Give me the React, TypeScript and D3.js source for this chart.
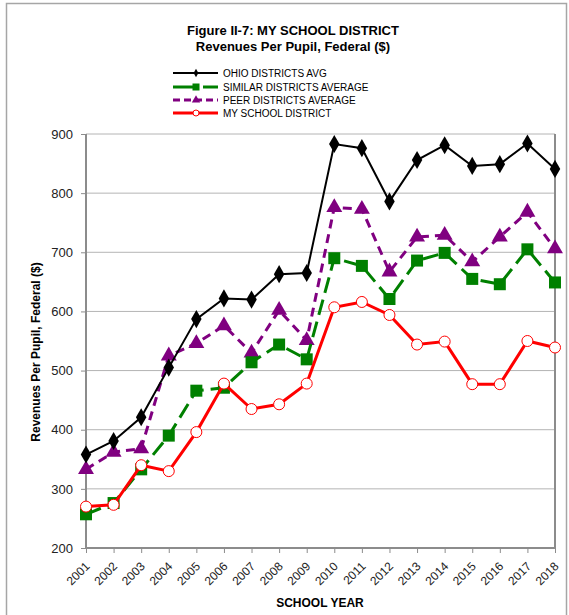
import React, { useEffect, useRef } from "react";
import * as d3 from "d3";

// school years on the x axis
const years: string[] = [
  "2001", "2002", "2003", "2004", "2005", "2006", "2007", "2008", "2009",
  "2010", "2011", "2012", "2013", "2014", "2015", "2016", "2017", "2018",
];

// revenues per pupil, federal ($)
const ohioAvg: number[] = [358, 381, 421, 505, 587, 622, 620, 663, 665, 883, 876, 786, 856, 881, 846, 849, 884, 841];
const similarAvg: number[] = [257, 276, 333, 390, 466, 471, 514, 544, 519, 690, 677, 621, 686, 699, 655, 646, 705, 649];
const peerAvg: number[] = [333, 362, 368, 525, 546, 576, 530, 602, 551, 776, 773, 667, 726, 729, 684, 726, 768, 706];
const myDistrict: number[] = [270, 273, 340, 330, 396, 478, 435, 443, 478, 607, 616, 594, 544, 549, 477, 477, 550, 539];

const yTicks: number[] = [200, 300, 400, 500, 600, 700, 800, 900];

const FONT = "'Liberation Sans', Arial, sans-serif";

export default function App() {
  const svgRef = useRef<SVGSVGElement | null>(null);

  useEffect(() => {
    const svg = d3.select(svgRef.current);
    svg.selectAll("*").remove();

    const width = 569;
    const height = 615;
    const plot = { left: 86, right: 555, top: 134, bottom: 548 };

    svg.attr("width", width).attr("height", height);

    // outer frame of the figure
    svg.append("path")
      .attr("d", `M6.5,${height} V3.5 H566.5 V${height}`)
      .attr("fill", "none")
      .attr("stroke", "#a6a6a6")
      .attr("stroke-width", 1.5);

    const x = d3.scalePoint<string>()
      .domain(years)
      .range([plot.left, plot.right]);

    const y = d3.scaleLinear()
      .domain([200, 900])
      .range([plot.bottom, plot.top]);

    // gridlines
    svg.append("g")
      .selectAll("line")
      .data(yTicks.slice(1))
      .join("line")
      .attr("x1", plot.left)
      .attr("x2", plot.right)
      .attr("y1", (d) => y(d))
      .attr("y2", (d) => y(d))
      .attr("stroke", "#b4b4b4")
      .attr("stroke-width", 1);

    // y axis
    const yAxis = svg.append("g")
      .attr("transform", `translate(${plot.left},0)`)
      .call(d3.axisLeft(y).tickValues(yTicks).tickSize(5).tickPadding(8));
    yAxis.select(".domain").remove();
    yAxis.selectAll(".tick line").attr("stroke", "#8c8c8c");
    yAxis.selectAll(".tick text")
      .attr("font-family", FONT)
      .attr("font-size", 13)
      .attr("fill", "#222");

    // x axis, labels turned 45 degrees
    const xAxis = svg.append("g")
      .attr("transform", `translate(0,${plot.bottom})`)
      .call(d3.axisBottom(x).tickSize(5));
    xAxis.select(".domain").remove();
    xAxis.selectAll(".tick line").attr("stroke", "#8c8c8c");
    xAxis.selectAll(".tick text")
      .attr("font-family", FONT)
      .attr("font-size", 12)
      .attr("fill", "#222")
      .attr("text-anchor", "end")
      .attr("y", 0)
      .attr("dy", 0)
      .attr("transform", "translate(4,19) rotate(-45)");

    // plot frame
    svg.append("path")
      .attr("d", `M${plot.left},${plot.top} V${plot.bottom} H${plot.right} V${plot.top}`)
      .attr("fill", "none")
      .attr("stroke", "#8c8c8c")
      .attr("stroke-width", 2);

    const line = d3.line<number>()
      .x((d, i) => x(years[i]) as number)
      .y((d) => y(d));

    // purple peer series
    svg.append("path")
      .datum(peerAvg)
      .attr("fill", "none")
      .attr("stroke", "#800080")
      .attr("stroke-width", 3)
      .attr("stroke-dasharray", "9,6")
      .attr("d", line);
    svg.append("g")
      .selectAll("path")
      .data(peerAvg)
      .join("path")
      .attr("transform", (d, i) => `translate(${x(years[i])},${y(d)})`)
      .attr("d", d3.symbol().type(d3.symbolTriangle).size(110)())
      .attr("fill", "#800080");

    // green similar series
    svg.append("path")
      .datum(similarAvg)
      .attr("fill", "none")
      .attr("stroke", "#008000")
      .attr("stroke-width", 3)
      .attr("stroke-dasharray", "16,7")
      .attr("d", line);
    svg.append("g")
      .selectAll("rect")
      .data(similarAvg)
      .join("rect")
      .attr("x", (d, i) => (x(years[i]) as number) - 6)
      .attr("y", (d) => y(d) - 6)
      .attr("width", 12)
      .attr("height", 12)
      .attr("fill", "#008000");

    // red my district series
    svg.append("path")
      .datum(myDistrict)
      .attr("fill", "none")
      .attr("stroke", "#ff0000")
      .attr("stroke-width", 3)
      .attr("d", line);
    svg.append("g")
      .selectAll("circle")
      .data(myDistrict)
      .join("circle")
      .attr("cx", (d, i) => x(years[i]) as number)
      .attr("cy", (d) => y(d))
      .attr("r", 5.5)
      .attr("fill", "#fff")
      .attr("stroke", "#ff0000")
      .attr("stroke-width", 1);

    // black ohio series
    svg.append("path")
      .datum(ohioAvg)
      .attr("fill", "none")
      .attr("stroke", "#000")
      .attr("stroke-width", 2)
      .attr("d", line);
    svg.append("g")
      .selectAll("path")
      .data(ohioAvg)
      .join("path")
      .attr("transform", (d, i) => `translate(${x(years[i])},${y(d)})`)
      .attr("d", d3.symbol().type(d3.symbolDiamond).size(95)())
      .attr("fill", "#000");

    // title
    const title = svg.append("text")
      .attr("x", 293)
      .attr("text-anchor", "middle")
      .attr("font-family", FONT)
      .attr("font-weight", "bold")
      .attr("font-size", 13)
      .attr("fill", "#000");
    title.append("tspan").attr("x", 293).attr("y", 35).text("Figure II-7: MY SCHOOL DISTRICT");
    title.append("tspan").attr("x", 293).attr("y", 51).text("Revenues Per Pupil, Federal ($)");

    // legend
    const legend = svg.append("g").attr("transform", "translate(173,0)");
    const legendRows = [
      { label: "OHIO DISTRICTS AVG", color: "#000", width: 2, dash: null as string | null, y: 73 },
      { label: "SIMILAR DISTRICTS AVERAGE", color: "#008000", width: 3, dash: "22,8", y: 87 },
      { label: "PEER DISTRICTS AVERAGE", color: "#800080", width: 3, dash: "7,4", y: 100 },
      { label: "MY SCHOOL DISTRICT", color: "#ff0000", width: 3, dash: null, y: 113 },
    ];
    legendRows.forEach((r, i) => {
      legend.append("line")
        .attr("x1", 0).attr("x2", 45)
        .attr("y1", r.y).attr("y2", r.y)
        .attr("stroke", r.color)
        .attr("stroke-width", r.width)
        .attr("stroke-dasharray", r.dash);
      const m = legend.append("g").attr("transform", `translate(23,${r.y})`);
      if (i === 0) m.append("path").attr("d", d3.symbol().type(d3.symbolDiamond).size(20)()).attr("fill", "#000");
      if (i === 1) m.append("rect").attr("x", -3.5).attr("y", -3.5).attr("width", 7).attr("height", 7).attr("fill", "#008000");
      if (i === 2) m.append("path").attr("d", d3.symbol().type(d3.symbolTriangle).size(30)()).attr("fill", "#800080");
      if (i === 3) m.append("circle").attr("r", 3).attr("fill", "#fff").attr("stroke", "#ff0000").attr("stroke-width", 1);
      legend.append("text")
        .attr("x", 50)
        .attr("y", r.y + 4)
        .attr("font-family", FONT)
        .attr("font-size", 10)
        .attr("fill", "#000")
        .text(r.label);
    });

    // y-axis label
    svg.append("text")
      .attr("transform", "rotate(-90)")
      .attr("x", -352)
      .attr("y", 40)
      .attr("text-anchor", "middle")
      .attr("font-family", FONT)
      .attr("font-weight", "bold")
      .attr("font-size", 12)
      .attr("fill", "#000")
      .text("Revenues Per Pupil, Federal ($)");

    // x-axis label
    svg.append("text")
      .attr("x", 320)
      .attr("y", 607)
      .attr("text-anchor", "middle")
      .attr("font-family", FONT)
      .attr("font-weight", "bold")
      .attr("font-size", 12)
      .attr("fill", "#000")
      .text("SCHOOL YEAR");
  }, []);

  return (
    <div style={{ position: "absolute", left: 0, top: 0 }}>
      <svg ref={svgRef}></svg>
    </div>
  );
}
